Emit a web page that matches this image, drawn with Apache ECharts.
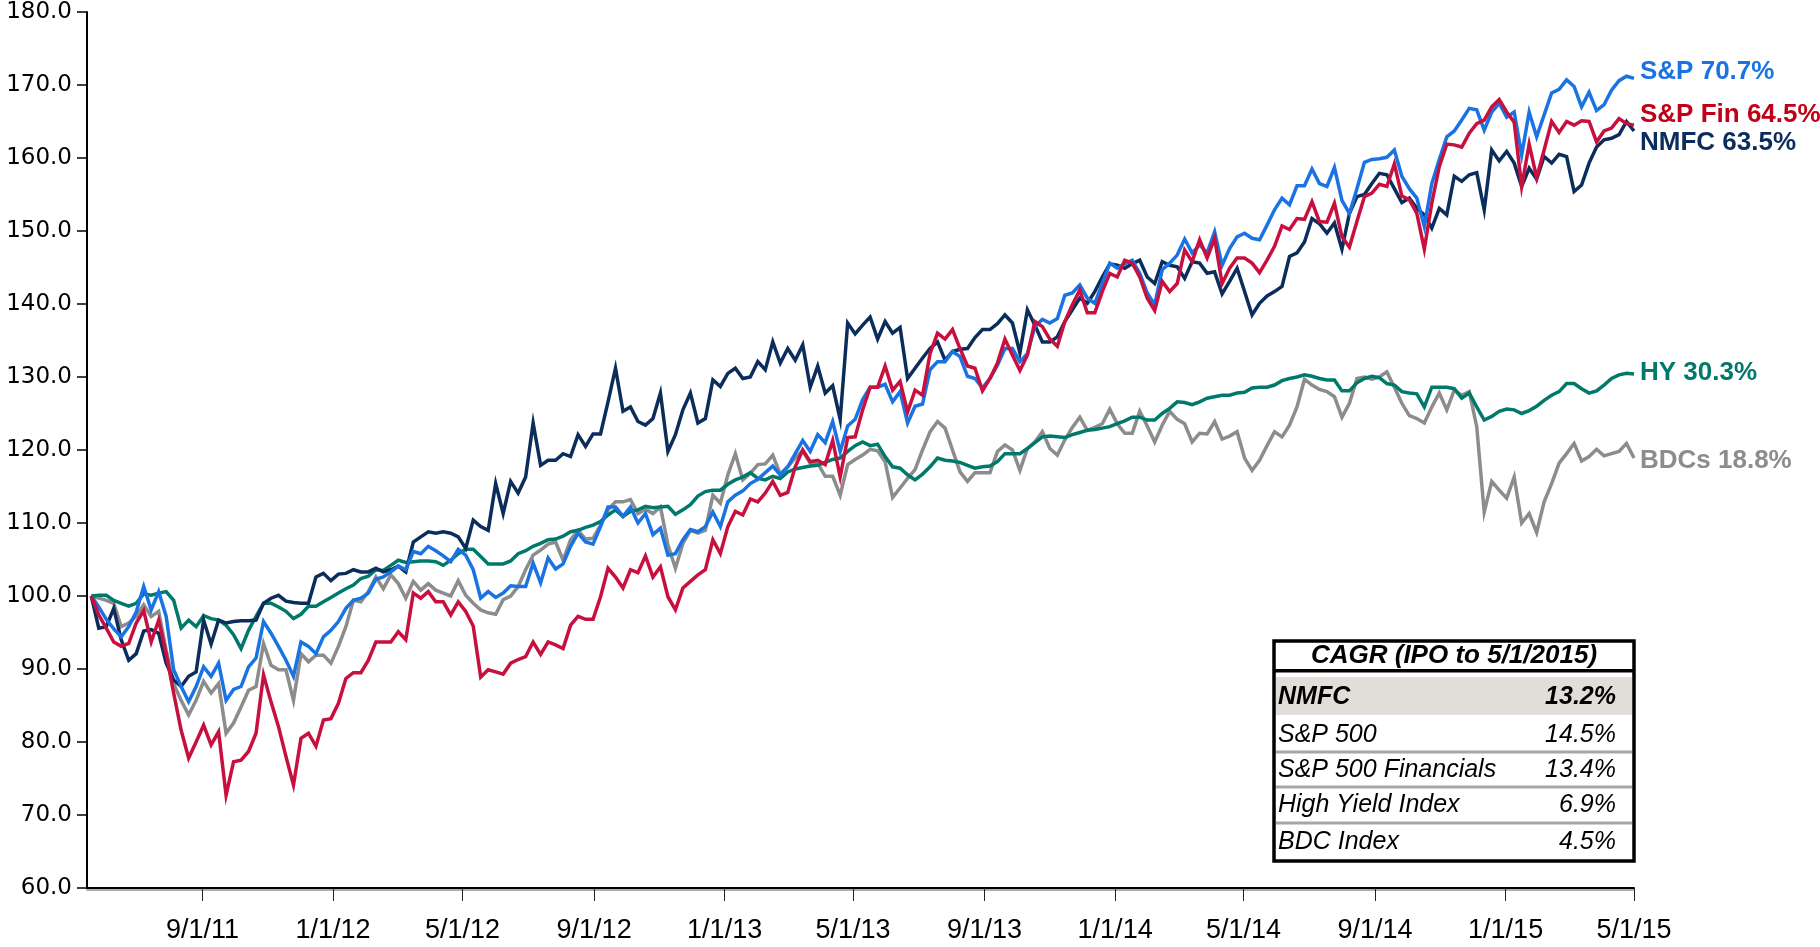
<!DOCTYPE html>
<html>
<head>
<meta charset="utf-8">
<script src="https://cdn.jsdelivr.net/npm/echarts@6/dist/echarts.min.js"></script>
<style>
html,body{margin:0;padding:0;background:#fff;}
#chart{width:1820px;height:947px;}
</style>
</head>
<body>
<div id="chart"></div>
<script>
// Weekly observations (Fridays) from 5/20/2011 to 5/1/2015, indexed to 100 at IPO
const startDate = [2011, 4, 20];
const weekStepDays = 7;

const nmfc = [
100,95.6,95.8,98.3,94.0,91.2,92.1,95.2,95.4,94.9,90.8,88.5,87.6,89.0,89.6,96.7,93.4,96.7,96.3,96.5,96.6,96.6,96.7,99.0,99.7,100.1,99.3,99.1,99.0,99.0,102.6,103.1,102.1,103.0,103.1,103.6,103.3,103.3,103.8,103.3,103.6,104.1,103.3,107.4,
108.1,108.8,108.6,108.8,108.6,108.1,106.5,110.4,109.5,109.0,115.4,111.3,115.7,114.1,116.3,123.7,117.9,118.6,118.6,119.5,119.1,122.1,120.5,122.2,122.2,126.6,131.2,125.3,125.9,123.9,123.4,124.3,127.8,119.8,122.1,125.5,127.8,123.7,124.3,129.6,128.7,130.5,131.2,
129.8,130.0,132.1,131.0,134.8,131.9,133.9,132.3,134.4,128.6,131.5,127.8,128.8,124.2,137.4,135.9,137.1,138.2,135.2,137.6,136.0,136.8,129.8,131.2,132.6,133.9,134.8,132.3,133.5,133.8,133.9,135.4,136.5,136.5,137.3,138.5,137.4,133.3,139.2,137.1,134.8,134.8,135.5,
137.6,139.2,140.8,140.1,141.7,143.7,145.5,145.3,144.9,145.5,146.0,143.7,142.8,145.8,145.3,145.1,143.5,145.8,145.6,144.2,144.4,141.4,143.1,144.9,141.7,138.5,140.1,141.1,141.7,142.4,146.5,147.0,148.5,151.7,
151.0,149.7,151.1,147.5,152.4,154.7,155.0,156.5,157.9,157.7,155.8,153.9,154.5,153.1,152.2,150.4,153.1,152.2,157.5,156.8,157.7,158.0,152.9,161.1,159.6,160.9,159.3,156.1,158.6,157.1,160.2,159.3,160.5,160.2,155.4,156.3,159.3,161.5,162.5,162.7,163.2,165.0,163.7
];

const sp500 = [
100,98.5,96.8,95.5,94.4,95.8,97.8,101.3,98.1,100.6,97.2,89.9,87.6,85.5,87.6,90.3,89.0,90.8,85.7,87.2,87.6,90.3,91.5,96.5,94.9,93.1,91.2,89.0,93.7,93.1,92.1,94.4,95.3,96.5,98.3,99.4,99.7,100.4,102.3,102.6,103.3,104.1,103.6,106.1,
105.8,106.8,106.2,105.5,104.7,106.4,105.6,103.6,99.7,100.6,99.8,100.4,101.4,101.3,101.3,104.5,101.8,105.2,103.7,104.4,106.8,108.6,107.4,107.1,109.5,112.2,112.2,110.9,112.2,110.0,111.3,108.4,109.3,105.6,105.8,107.7,109.1,108.8,109.5,111.5,109.5,112.9,113.8,
114.4,115.4,116.0,116.9,117.8,116.6,117.7,119.5,121.3,119.8,122.1,121.0,123.9,119.8,123.3,124.2,126.9,128.6,128.6,129.0,126.6,128.0,123.7,126.0,126.3,131.0,132.1,132.1,133.5,132.8,130.1,129.8,128.5,129.8,131.6,133.9,133.9,132.1,133.2,136.9,137.9,137.4,138.0,
141.2,141.5,142.6,140.8,140.1,142.8,145.6,144.9,145.5,146.0,144.2,141.5,139.9,144.7,145.6,146.7,148.9,147.0,148.1,147.0,149.9,145.3,147.6,149.2,149.7,149.0,148.8,150.8,152.9,154.5,153.6,156.2,156.2,158.5,
156.5,156.1,158.7,154.2,152.4,155.8,159.4,159.8,159.9,160.1,161.1,157.5,155.8,154.5,150.6,156.5,159.8,162.9,163.7,165.2,166.8,166.6,163.8,166.3,167.5,165.6,166.3,160.4,166.3,162.9,165.9,168.9,169.4,170.7,169.8,167.0,169.0,166.5,167.3,169.3,170.6,171.2,170.9
];

const spFin = [
100,97.4,95.6,93.7,93.1,93.5,96.3,98.0,93.7,96.7,92.1,86.7,81.6,77.8,80.0,82.3,79.6,81.4,72.7,77.3,77.5,78.7,81.2,89.2,85.5,82.1,78.0,74.1,80.5,81.2,79.4,83.0,83.2,85.3,88.7,89.5,89.5,91.2,93.7,93.7,93.7,95.1,94.0,100.4,
99.7,100.6,99.2,99.2,97.4,99.2,97.9,95.9,88.9,89.9,89.6,89.3,90.8,91.3,91.7,93.7,92.0,93.7,93.3,92.8,96.0,97.2,96.8,96.8,99.9,103.8,102.6,101.1,103.6,103.2,105.5,102.6,104.0,99.9,98.1,101.1,102.0,102.9,103.6,107.7,105.8,109.5,111.6,
111.1,113.3,112.9,114.1,115.7,113.8,114.2,117.7,120.0,118.4,118.6,118.0,121.3,116.3,121.7,121.8,125.5,128.6,128.6,131.5,128.2,129.4,125.2,128.2,127.5,133.2,136.0,135.2,136.5,133.9,131.5,131.2,128.1,129.8,131.9,135.2,133.0,130.9,133.0,137.6,136.9,135.2,134.2,
137.6,139.9,141.9,138.8,138.8,141.7,144.2,143.7,146.0,145.6,143.7,140.8,139.1,143.1,141.7,142.8,147.4,145.8,148.8,146.3,149.0,142.8,144.9,146.3,146.3,145.6,144.3,146.0,147.9,150.7,150.2,151.7,151.6,154.0,
151.3,151.2,153.8,149.2,147.8,151.3,154.7,155.2,156.4,156.1,159.2,154.8,154.3,152.4,147.5,153.8,158.8,161.9,161.8,161.5,163.4,164.7,165.2,167.0,168.0,166.3,164.9,156.1,161.9,157.3,161.1,165.0,163.5,165.0,164.5,165.1,165.0,162.2,163.7,164.1,165.4,164.7,164.5
];

const highYield = [
100,100.1,100.1,99.4,99.0,98.6,99.0,100.3,100.1,100.4,100.6,99.4,95.6,96.7,95.8,97.3,96.9,96.7,96.0,94.7,92.8,95.3,97.2,99.0,99.0,98.5,97.9,96.9,97.5,98.6,98.6,99.2,99.8,100.4,101.0,101.5,102.4,102.7,103.6,103.5,104.2,104.9,104.6,104.7,
104.8,104.8,104.7,104.2,104.9,105.8,106.4,106.4,105.4,104.4,104.4,104.4,104.8,105.8,106.2,106.8,107.2,107.7,107.8,108.2,108.8,109.0,109.4,109.7,110.2,111.1,111.8,110.9,111.6,111.8,112.3,112.1,112.2,112.3,111.2,111.8,112.5,113.7,114.3,114.5,114.5,115.3,115.9,
116.3,116.9,116.1,115.9,116.4,116.1,117.0,117.4,117.6,117.8,117.9,118.3,118.7,118.9,119.8,120.6,121.1,120.6,120.8,119.1,117.7,117.5,116.6,115.9,116.7,117.7,118.9,118.6,118.5,118.3,117.9,117.5,117.7,117.8,118.4,119.5,119.5,119.5,120.2,121.0,121.8,121.9,121.8,
121.7,122.1,122.4,122.7,122.8,123.0,123.2,123.6,124.0,124.5,124.5,124.1,124.1,125.0,125.7,126.6,126.5,126.2,126.6,127.1,127.3,127.5,127.5,127.8,127.9,128.5,128.6,128.6,128.9,129.5,129.8,130.0,130.3,130.1,
129.8,129.6,129.6,128.1,128.1,129.2,129.8,130.1,129.9,129.1,128.9,128.0,127.8,127.7,125.9,128.6,128.6,128.6,128.4,127.1,127.8,125.9,124.1,124.6,125.3,125.6,125.5,125.0,125.4,126.0,126.8,127.5,128.0,129.1,129.1,128.4,127.8,128.1,128.9,129.8,130.3,130.5,130.4
];

const bdcs = [
100,99.7,99.4,99.0,95.8,96.3,97.2,98.8,97.2,97.9,92.6,88.0,85.7,83.7,85.7,88.3,86.7,88.0,81.2,82.6,84.8,87.1,87.6,93.5,90.5,89.9,89.9,85.7,92.1,91.0,91.9,91.9,90.8,93.1,95.8,99.4,99.2,100.6,102.6,101.0,102.9,101.7,99.7,102.0,
100.8,101.7,100.8,100.4,100.0,102.1,100.1,99.0,98.1,97.7,97.5,99.5,100.0,101.3,103.6,105.6,106.3,107.1,107.4,104.9,107.7,109.0,107.8,107.9,109.7,111.8,112.9,112.9,113.2,111.3,111.9,111.3,112.2,107.0,103.8,107.2,109.0,108.6,109.0,113.8,112.7,116.6,119.5,
115.9,116.8,118.0,118.1,119.3,116.7,117.7,118.9,119.9,118.2,118.2,116.4,116.4,113.8,118.0,118.7,119.3,120.1,119.9,118.4,113.5,114.8,116.1,117.3,120.0,122.5,123.9,123.0,120.0,117.0,115.7,116.9,116.9,116.9,119.8,120.7,120.0,117.2,120.2,121.1,122.5,120.2,119.3,
121.4,123.1,124.5,122.7,123.1,123.6,125.6,123.6,122.3,122.3,125.3,123.3,121.1,123.4,125.3,124.2,123.6,121.1,122.3,122.2,123.9,121.5,121.9,122.5,118.9,117.2,118.6,120.6,122.5,121.8,123.4,125.9,129.7,128.9,
128.3,128.0,127.3,124.5,126.4,129.8,130.0,129.7,130.0,130.7,128.6,126.4,124.7,124.3,123.7,125.9,127.8,125.5,128.2,127.5,128.0,123.2,111.5,115.7,114.5,113.4,116.3,110.0,111.3,108.7,112.9,115.4,118.2,119.5,120.9,118.5,119.1,120.1,119.2,119.5,119.8,120.9,118.9
];

const seriesNames = ['BDCs', 'HY', 'NMFC', 'S&P', 'S&P Fin'];
const endLabelTexts = ['BDCs 18.8%', 'HY 30.3%', 'NMFC 63.5%', 'S&P 70.7%', 'S&P Fin 64.5%'];
const xTickDates = ['2011-09-01','2012-01-01','2012-05-01','2012-09-01','2013-01-01','2013-05-01','2013-09-01','2014-01-01','2014-05-01','2014-09-01','2015-01-01','2015-05-01'];
const yTicks = { min: 60, max: 180, step: 10 };

const cagrTitle = 'CAGR (IPO to 5/1/2015)';
const cagrNames = ['NMFC', 'S&P 500', 'S&P 500 Financials', 'High Yield Index', 'BDC Index'];
const cagrValues = ['13.2%', '14.5%', '13.4%', '6.9%', '4.5%'];

// ---------- build ----------
function parseDate(s) { const p = s.split('-').map(Number); return new Date(p[0], p[1] - 1, p[2]).getTime(); }
const dates = nmfc.map((_, i) => new Date(startDate[0], startDate[1], startDate[2] + weekStepDays * i).getTime());
const toPairs = arr => arr.map((v, i) => [dates[i], v]);
const tickVals = xTickDates.map(parseDate);

const colors = {
  'BDCs': '#8c8c8c',
  'HY': '#00796b',
  'NMFC': '#0b2d5c',
  'S&P': '#1a73e3',
  'S&P Fin': '#c8103e'
};
const labelColors = {
  'BDCs': '#8c8c8c',
  'HY': '#00796b',
  'NMFC': '#0b2d5c',
  'S&P': '#1a73e3',
  'S&P Fin': '#c00018'
};
const dataMap = { 'BDCs': bdcs, 'HY': highYield, 'NMFC': nmfc, 'S&P': sp500, 'S&P Fin': spFin };
const labelOffsets = { 'BDCs': [0, 3], 'HY': [0, -1], 'NMFC': [0, 12], 'S&P': [0, -7], 'S&P Fin': [0, -10] };

const series = seriesNames.map((name, k) => ({
  name: name,
  type: 'line',
  data: toPairs(dataMap[name]),
  showSymbol: false,
  symbol: 'none',
  smooth: false,
  lineStyle: { width: 3.5, color: colors[name], join: 'miter' },
  itemStyle: { color: colors[name] },
  z: 2 + k,
  endLabel: {
    show: true,
    formatter: () => endLabelTexts[k],
    color: labelColors[name],
    fontFamily: "'Liberation Sans', Arial, sans-serif",
    fontWeight: 'bold',
    fontSize: 26,
    distance: 6,
    offset: labelOffsets[name]
  }
}));

// table graphics
const tX = 1274, tW = 360, tY = 641, tH = 220;
const rowCenters = [697, 735, 770, 805, 842];
const tableFont = "'Liberation Sans', Arial, sans-serif";
const graphics = [
  { type: 'rect', shape: { x: tX, y: tY, width: tW, height: tH }, style: { fill: '#fff', stroke: '#000', lineWidth: 3.5 }, z: 10 },
  { type: 'rect', shape: { x: tX + 2, y: 677, width: tW - 4, height: 38 }, style: { fill: '#e1ded9' }, z: 11 },
  { type: 'rect', shape: { x: tX, y: 669, width: tW, height: 3.5 }, style: { fill: '#000' }, z: 12 },
  { type: 'text', x: tX + tW / 2, y: 656, style: { text: cagrTitle, fill: '#000', fontFamily: tableFont, fontSize: 26, fontWeight: 'bold', fontStyle: 'italic', align: 'center', verticalAlign: 'middle' }, z: 12 }
];
[752, 787, 823].forEach(y => graphics.push({ type: 'rect', shape: { x: tX + 2, y: y - 1.5, width: tW - 4, height: 3 }, style: { fill: '#a6a6a6' }, z: 12 }));
cagrNames.forEach((n, r) => {
  const bold = r === 0 ? 'bold' : 'normal';
  graphics.push({ type: 'text', x: tX + 4, y: rowCenters[r], style: { text: n, fill: '#000', fontFamily: tableFont, fontSize: 25, fontStyle: 'italic', fontWeight: bold, align: 'left', verticalAlign: 'middle' }, z: 13 });
  graphics.push({ type: 'text', x: tX + tW - 18, y: rowCenters[r], style: { text: cagrValues[r], fill: '#000', fontFamily: tableFont, fontSize: 25, fontStyle: 'italic', fontWeight: bold, align: 'right', verticalAlign: 'middle' }, z: 13 });
});

const chart = echarts.init(document.getElementById('chart'), null, { renderer: 'canvas' });
chart.setOption({
  animation: false,
  backgroundColor: '#fff',
  grid: { left: 87, right: 186, top: 12, bottom: 59, containLabel: false },
  xAxis: {
    type: 'value',
    min: parseDate('2011-05-16'),
    max: parseDate('2015-05-01'),
    axisLine: { show: true, onZero: false, lineStyle: { color: '#000', width: 2, shadowColor: '#b0b0b0', shadowOffsetY: 2, shadowBlur: 0 } },
    axisTick: { show: true, customValues: tickVals, length: 13, inside: false, lineStyle: { color: '#222', width: 1 } },
    axisLabel: {
      customValues: tickVals,
      margin: 29,
      color: '#000',
      fontFamily: "'Liberation Sans Narrow', 'Liberation Sans', Arial, sans-serif",
      fontSize: 27,
      formatter: function (v) { const d = new Date(v); return (d.getMonth() + 1) + '/' + d.getDate() + '/' + String(d.getFullYear()).slice(2); }
    },
    splitLine: { show: false }
  },
  yAxis: {
    type: 'value',
    min: yTicks.min,
    max: yTicks.max,
    interval: yTicks.step,
    axisLine: { show: true, lineStyle: { color: '#000', width: 2 } },
    axisTick: { show: true, length: 10, lineStyle: { color: '#000', width: 1.5 } },
    axisLabel: { margin: 15, color: '#000', fontFamily: "'DejaVu Sans', sans-serif", fontSize: 23, formatter: v => v.toFixed(1) },
    splitLine: { show: false }
  },
  series: series,
  graphic: graphics
});
</script>
</body>
</html>
